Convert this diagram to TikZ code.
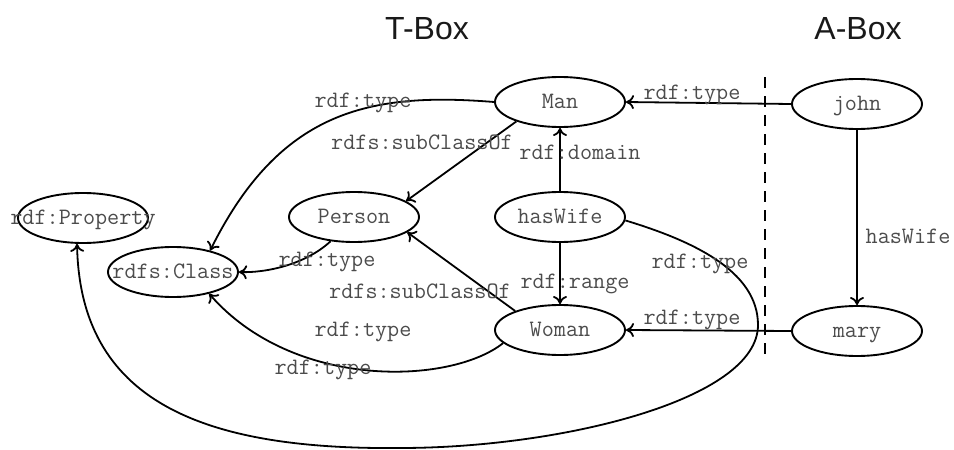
\documentclass[tikz,border=0pt]{standalone}
\usepackage{fontspec}
\newfontfamily\titlefont{Liberation Sans}
\usetikzlibrary{shapes.geometric,arrows.meta}

\begin{document}
\begin{tikzpicture}[x=1pt,y=-1pt,
  every node/.style={font=\fontsize{23.5}{26}\ttfamily, text=black!70},
  term/.style={ellipse, draw=black, line width=1.9pt, minimum width=130pt,
    minimum height=50pt, inner sep=0pt, text height=12pt, text depth=0pt},
  lbl/.style={anchor=base, inner sep=0pt},
  link/.style={line width=1.8pt, -{To[length=8pt,width=14pt]}},
  heading/.style={font=\fontsize{32}{36}\titlefont, text=black!90,
    anchor=base, inner sep=0pt}]

\useasboundingbox (0,0) rectangle (954,450);

% section headings
\node[heading] (tbox) at (427,39) {T-Box};
\node[heading] (abox) at (858,39) {A-Box};

% terms
\node[term] (man)      at (560,102) {\makebox[0pt]{Man}};
\node[term] (john)     at (857,104) {\makebox[0pt]{john}};
\node[term] (person)   at (354,217) {\makebox[0pt]{Person}};
\node[term] (haswife)  at (560,217) {\makebox[0pt]{hasWife}};
\node[term] (woman)    at (560,330) {\makebox[0pt]{Woman}};
\node[term] (mary)     at (857,331) {\makebox[0pt]{mary}};
\node[term] (property) at (83,218)  {\makebox[0pt]{rdf:Property}};
\node[term] (class)    at (173,272) {\makebox[0pt]{rdfs:Class}};

% T-Box / A-Box divider
\coordinate (divtop) at (765,77);
\coordinate (divbot) at (765,360);
\draw[line width=1.9pt, dash pattern=on 11pt off 8pt] (divtop) -- (divbot);

% connectors
\draw[link] (man.west) .. controls (370,92) and (280,110) .. (class.30);
\draw[link] (man.204) -- (person.17);
\draw[link] (haswife.north) -- (man.south);
\draw[link] (john.west) -- (man.east);
\draw[link] (person.226) .. controls (305,265) and (265,273) .. (class.east);
\draw[link] (woman.157) -- (person.344);
\draw[link] (haswife.south) -- (woman.north);
\draw[link] (mary.west) -- (woman.east);
\draw[link] (john.south) -- (mary.north);
\draw[link] (woman.193) .. controls (450,385) and (293,390) .. (class.329);
\draw[link] (haswife.357) .. controls (690,240) and (758,270) .. (758,325)
  .. controls (758,400) and (560,448) .. (400,448)
  .. controls (200,450) and (80,400) .. (property.257);

% connector labels
\node[lbl] (l1)  at (363,107) {rdf:type};
\node[lbl] (l2)  at (422,149) {rdfs:subClassOf};
\node[lbl] (l3)  at (580,159) {rdf:domain};
\node[lbl] (l4)  at (692,99)  {rdf:type};
\node[lbl] (l5)  at (327,266) {rdf:type};
\node[lbl] (l6)  at (420,298) {rdfs:subClassOf};
\node[lbl] (l7)  at (575,288) {rdf:range};
\node[lbl] (l8)  at (692,324) {rdf:type};
\node[lbl] (l9)  at (908,243) {hasWife};
\node[lbl] (l10) at (363,336) {rdf:type};
\node[lbl] (l11) at (323,374) {rdf:type};
\node[lbl] (l12) at (700,268) {rdf:type};
\end{tikzpicture}
\end{document}
